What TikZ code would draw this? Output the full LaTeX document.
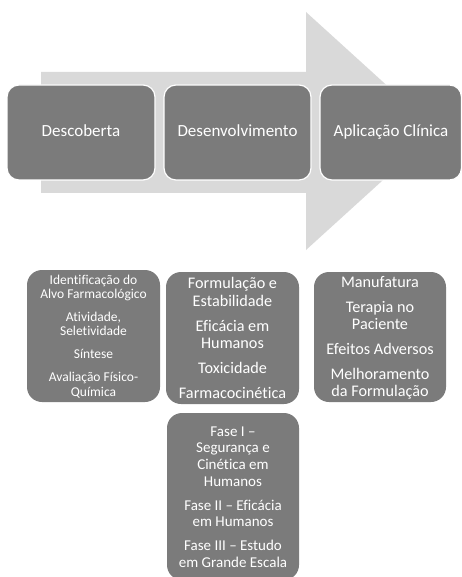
\documentclass[tikz,border=0pt]{standalone}
\usepackage{fontspec}
\setmainfont{Carlito}[Ligatures={NoCommon,TeX}]
\definecolor{boxgray}{HTML}{7B7B7B}
\definecolor{arrowgray}{HTML}{D9D9D9}
\begin{document}
\begin{tikzpicture}[x=1pt,y=-1pt,
  topbox/.style={fill=boxgray,draw=white,line width=1.2pt,rounded corners=12pt,text=white},
  subbox/.style={fill=boxgray,draw=none,rounded corners=15pt,text=white},
  toptext/.style={text=white,font=\fontsize{17}{20}\selectfont,text height=12pt,text depth=4pt},
  subtext/.style={text=white,align=center,inner sep=0pt}]
\useasboundingbox (0,0) rectangle (461,577);
% big arrow
\fill[arrowgray] (41,72) -- (306,72) -- (306,12) -- (437,131) -- (306,250) -- (306,193) -- (41,193) -- cycle;
% top boxes
\draw[topbox] (7,85) rectangle (155,180);
\draw[topbox] (164,85) rectangle (311,180);
\draw[topbox] (320,85) rectangle (461.5,180);
\node[toptext] (t1) at (81,132.5) {Descoberta};
\node[toptext] (t2) at (237.5,132.5) {Desenvolvimento};
\node[toptext] (t3) at (391,132.5) {Aplicação Clínica};
% sub boxes
\fill[subbox] (27,270) rectangle (160,402);
\fill[subbox] (166,272) rectangle (299,404);
\fill[subbox] (314,272) rectangle (446,402);
\fill[subbox] (167,413) rectangle (299,580);
\node[subtext,font=\fontsize{13.5}{14.3}\selectfont] (s1) at (93.5,336.5)
  {Identificação do\\Alvo Farmacológico\\[8.7pt]Atividade,\\Seletividade\\[8.7pt]Síntese\\[8.7pt]Avaliação Físico-\\Química};
\node[subtext,font=\fontsize{16.2}{17.3}\selectfont] (s2) at (232.5,338)
  {Formulação e\\Estabilidade\\[7.7pt]Eficácia em\\Humanos\\[7.7pt]Toxicidade\\[7.7pt]Farmacocinética};
\node[subtext,font=\fontsize{16.2}{17.8}\selectfont] (s3) at (380,338)
  {Manufatura\\[6.8pt]Terapia no\\Paciente\\[6.8pt]Efeitos Adversos\\[6.8pt]Melhoramento\\da Formulação};
\node[subtext,font=\fontsize{15}{16.7}\selectfont] (s4) at (233,497)
  {Fase I –\\Segurança e\\Cinética em\\Humanos\\[7.3pt]Fase II – Eficácia\\em Humanos\\[7.3pt]Fase III – Estudo\\em Grande Escala};
\end{tikzpicture}
\end{document}
